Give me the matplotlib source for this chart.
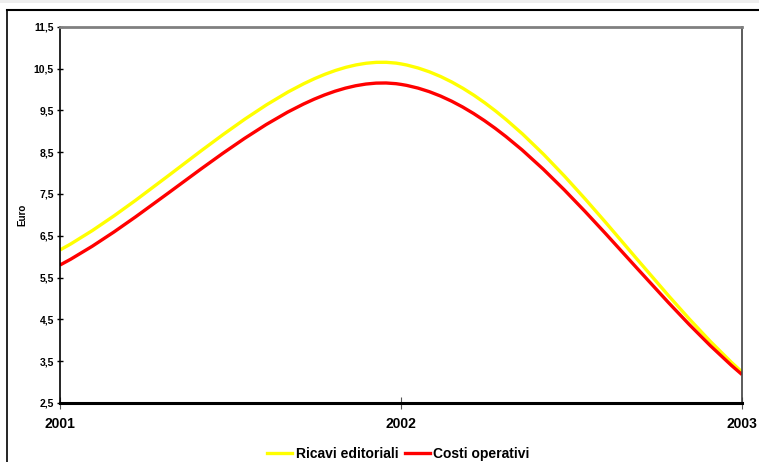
import numpy as np
import matplotlib.pyplot as plt
from matplotlib.path import Path
from matplotlib.patches import PathPatch, Rectangle
from matplotlib.lines import Line2D

plt.rcParams['font.family'] = ['Liberation Sans', 'DejaVu Sans']
plt.rcParams['font.weight'] = 'bold'

# dati
anni = ['2001', '2002', '2003']
ricavi = [6.16, 10.61, 3.24]
costi = [5.80, 10.12, 3.18]
y_ticks = [2.5, 3.5, 4.5, 5.5, 6.5, 7.5, 8.5, 9.5, 10.5, 11.5]


def curva_smussata(ax, xs, ys):
    """Linea smussata tipo Excel: Bezier calcolata in coordinate schermo."""
    p = ax.transData.transform(np.column_stack([xs, ys]).astype(float))
    n = len(p)
    d = np.hypot(*np.diff(p, axis=0).T)
    verts = [p[0]]
    codes = [Path.MOVETO]
    for i in range(n - 1):
        if i == 0:
            c1 = p[i] + (p[i + 1] - p[i]) / 3
        else:
            c1 = p[i] + (p[i + 1] - p[i - 1]) * d[i] / (d[i - 1] + d[i]) / 3
        if i + 2 >= n:
            c2 = p[i + 1] - (p[i + 1] - p[i]) / 3
        else:
            c2 = p[i + 1] - (p[i + 2] - p[i]) * d[i] / (d[i] + d[i + 1]) / 3
        verts += [c1, c2, p[i + 1]]
        codes += [Path.CURVE4] * 3
    verts = ax.transData.inverted().transform(np.array(verts))
    return Path(verts, codes)


fig = plt.figure(figsize=(7.59, 4.62), dpi=100)
ax = fig.add_axes([60 / 759, 59 / 462, 682 / 759, 376.3 / 462])

x = np.arange(len(anni))
ax.set_xlim(0, 2)
ax.set_ylim(2.5, 11.5)

for serie, colore in [(ricavi, '#FFFF00'), (costi, '#FF0000')]:
    patch = PathPatch(curva_smussata(ax, x, serie), facecolor='none',
                      edgecolor=colore, lw=2.4, capstyle='butt')
    ax.add_patch(patch)

ax.set_xticks(x)
ax.set_xticklabels(anni, fontsize=10, fontweight='bold')
ax.set_yticks(y_ticks)
ax.set_yticklabels([f'{v:.1f}'.replace('.', ',') for v in y_ticks],
                   fontsize=7.5, fontweight='bold')
ax.tick_params(axis='y', direction='inout', length=5, width=1, pad=2)
ax.tick_params(axis='x', direction='inout', length=8, width=0.8, pad=6,
               color='#555555')
ax.set_ylabel('Euro', fontsize=7, fontweight='bold')
ax.yaxis.set_label_coords(-33 / 682, 0.5)

ax.spines['left'].set_linewidth(1.2)
ax.spines['bottom'].set_linewidth(2.2)
ax.spines['top'].set_color('#808080')
ax.spines['top'].set_linewidth(2)
ax.spines['right'].set_color('#404040')
ax.spines['right'].set_linewidth(1.2)

handles = [Line2D([], [], color='#FFFF00', lw=2.4),
           Line2D([], [], color='#FF0000', lw=2.4)]
fig.legend(handles, ['Ricavi editoriali', 'Costi operativi'],
           loc='center', bbox_to_anchor=(0.525, 0.018), ncol=2,
           frameon=False, handlelength=1.8, handletextpad=0.25,
           columnspacing=0.45, prop={'weight': 'bold', 'size': 10})

# cornice esterna del grafico
fig.add_artist(Rectangle((0, 459 / 462), 1, 3 / 462, transform=fig.transFigure,
                         facecolor='#eeeeee', edgecolor='none'))
fig.add_artist(Line2D([7 / 759, 1], [452 / 462, 452 / 462],
                      transform=fig.transFigure, color='black', lw=1.5))
fig.add_artist(Line2D([7 / 759, 7 / 759], [0, 452 / 462],
                      transform=fig.transFigure, color='black', lw=1.2))

fig.savefig('out.png', dpi=100)
